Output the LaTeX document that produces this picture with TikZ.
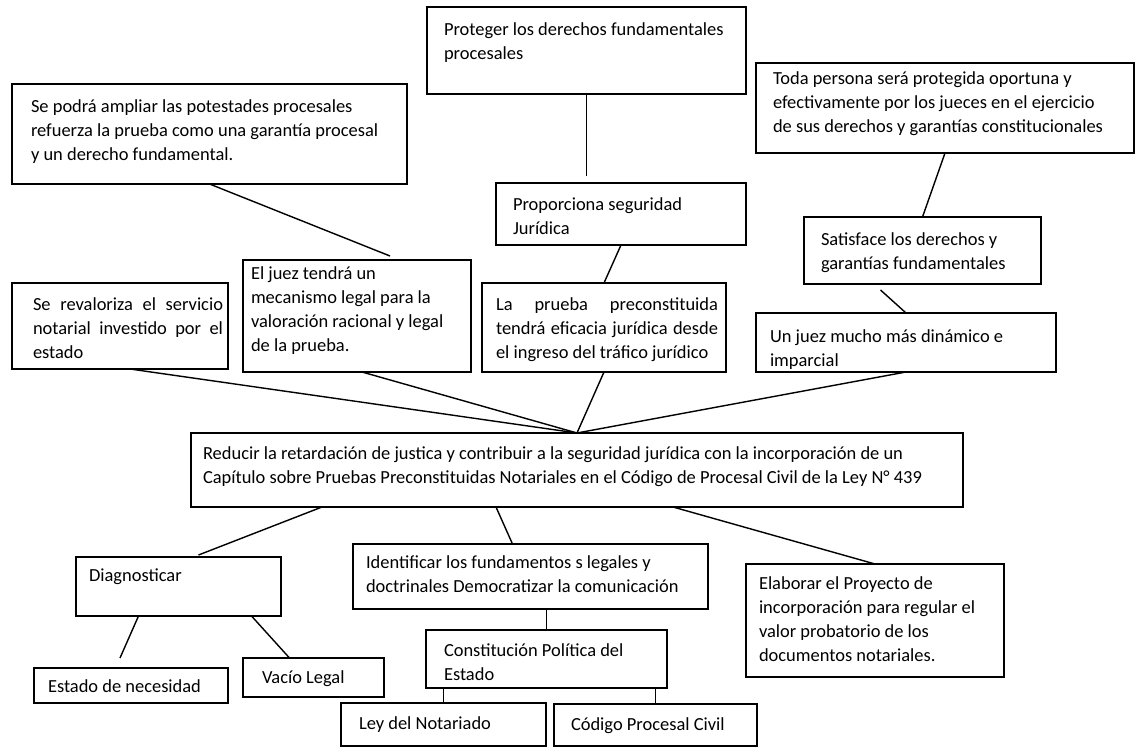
\documentclass[tikz,border=0pt]{standalone}
\usepackage{fontspec}
\setmainfont{Carlito}
\newfontfamily\srcfont{Liberation Serif}
\usetikzlibrary{positioning, calc}

% one unit of the picture = one pixel of the original sketch
\newlength{\unitpx}
\setlength{\unitpx}{0.02cm}

% box text: width, height, left pad, top pad, text width, text
\newcommand{\boxtxt}[6]{%
    \parbox[t][#2\unitpx][t]{#1\unitpx}{\vspace*{#4\unitpx}%
        \hspace*{#3\unitpx}\parbox[t]{#5\unitpx}{\strut #6}}}

\begin{document}
\begin{tikzpicture}
[
    x=0.02cm, y=-0.02cm,
    % The boxes are named A ... R, from top to bottom
    % E is the central objective, everything hangs on it
]

%=================================== Start ===================================
\tikzstyle{box} = [draw, line width=0.9pt, anchor=north west, inner sep=0pt, outer sep=0pt,
                   font=\fontsize{10.5pt}{13.6pt}\selectfont]
\tikzstyle{ln}  = [line width=0.8pt]

\fill[white] (0,0) rectangle (1135,749);
\useasboundingbox (0,0) rectangle (1135,749);

{
    % upper row
    \node[box] (A) at (12,84)   {\boxtxt{395}{100}{19}{12}{376}{Se podrá ampliar las potestades procesales\\
                                  refuerza la prueba como una garantía procesal\\ y un derecho fundamental.}};
    \node[box] (B) at (427,7)   {\boxtxt{319}{87}{17}{12}{302}{Proteger los derechos fundamentales\\ procesales}};
    \node[box] (F) at (756,63)  {\boxtxt{378}{90}{17}{5}{361}{Toda persona será protegida oportuna y\\
                                  efectivamente por los jueces en el ejercicio\\ de sus derechos y garantías constitucionales}};
    \node[box] (C) at (496,183) {\boxtxt{250}{62}{17}{11}{233}{Proporciona seguridad\\ Jurídica}};
    \node[box] (G) at (804,217) {\boxtxt{237}{67}{17}{12}{220}{Satisface los derechos y\\ garantías fundamentales}};

    % row above the objective
    \node[box] (I) at (12,283)  {\boxtxt{216}{86}{21}{11}{190}{Se revaloriza el servicio\linebreak
                                  notarial investido por el\linebreak estado}};
    \node[box] (J) at (243,260) {\boxtxt{228}{112}{8}{3}{220}{El juez tendrá un\\ mecanismo legal para la\\
                                  valoración racional y legal\\ de la prueba.}};
    \node[box] (D) at (482,283) {\boxtxt{244}{89}{14}{11}{222}{La prueba preconstituida\linebreak
                                  tendrá eficacia jurídica desde\linebreak el ingreso del tráfico jurídico}};
    \node[box] (H) at (756,313) {\boxtxt{300}{59}{14}{13}{286}{Un juez mucho más dinámico e\\ imparcial}};

    % objective
    \node[box] (E) at (191,433) {\boxtxt{772}{74}{12}{10}{760}{Reducir la retardación de justica y contribuir
                                  a la seguridad jurídica con la incorporación de un\\ Capítulo sobre Pruebas
                                  Preconstituidas Notariales en el Código de Procesal Civil de la Ley N° 439}};

    % lower part
    \node[box] (K) at (76,557)  {\boxtxt{205}{59}{13}{8}{192}{Diagnosticar}};
    \node[box] (N) at (353,544) {\boxtxt{355}{65}{13}{8}{342}{Identificar los fundamentos s legales y\\
                                  doctrinales Democratizar la comunicación}};
    \node[box] (R) at (746,564) {\boxtxt{258}{113}{13}{9}{245}{Elaborar el Proyecto de\\
                                  incorporación para regular el\\ valor probatorio de los\\ documentos notariales.}};
    \node[box] (L) at (34,668)  {\boxtxt{194}{35}{14}{8}{180}{Estado de necesidad}};
    \node[box] (M) at (243,658) {\boxtxt{141}{39}{19}{9}{122}{Vacío Legal}};
    \node[box] (O) at (426,630) {\boxtxt{241}{58}{18}{10}{223}{Constitución Política del\\ Estado}};
    \node[box] (P) at (341,703) {\boxtxt{205}{43}{18}{10}{187}{Ley del Notariado}};
    \node[box] (Q) at (554,704) {\boxtxt{203}{42}{17}{10}{186}{Código Procesal Civil}};

    % source line, cut by the lower border
    \begin{scope}
        \clip (0,0) rectangle (1135,749);
        \node[anchor=base west, inner sep=0pt, font=\srcfont\bfseries\fontsize{10pt}{12pt}\selectfont]
            (src) at (40,762) {Fuente: Elaboración Propia 2020};
    \end{scope}

    % connections of the upper part
    \draw[ln] (A.south) -- ($(J.north)+(33,-4)$);
    \draw[ln] (B.south) -- ($(B.south |- C.north)+(0,-7)$);
    \draw[ln] (C.south) -- (D.north);
    \draw[ln] (F.south) -- (G.north);
    \draw[ln] ($(G.south)+(-42,6)$) -- (H.north);

    % everything meets on top of the objective
    \foreach \src / \dx in {I/10, J/5, D/0, H/0}
        \draw[ln] ($(\src.south)+(\dx,0)$) -- (E.north);

    % connections of the lower part
    \draw[ln] ($(E.south)+(-255,0)$) -- ($(K.north)+(20,-2)$);
    \draw[ln] ($(E.south)+(-81,0)$)  -- ($(N.north)+(-18,0)$);
    \draw[ln] ($(E.south)+(96,0)$)   -- (R.north);
    \draw[ln] ($(K.south)+(-40,0)$)  -- ($(L.north)+(-11,-10)$);
    \draw[ln] ($(K.south)+(73,0)$)   -- ($(M.north)+(-24,0)$);
    \draw[ln] (O.north |- N.south) -- (O.north);
    \foreach \dst in {P, Q}
        \draw[ln] (\dst.north |- O.south) -- (\dst.north);
}
%==================================== END ====================================

\end{tikzpicture}
\end{document}
